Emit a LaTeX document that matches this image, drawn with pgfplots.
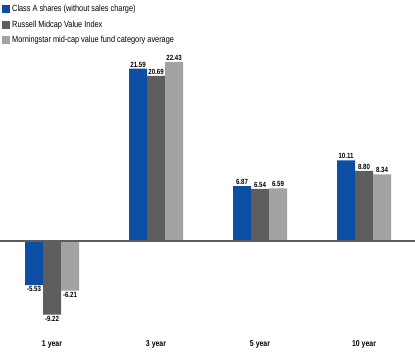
\documentclass[border=0pt]{standalone}
\usepackage{fontspec}
\setmainfont{Liberation Sans}[FakeStretch=0.82]
\usepackage{pgfplots}
\pgfplotsset{compat=1.18}
\definecolor{cA}{HTML}{0B4EA2}
\definecolor{cB}{HTML}{5E5E5E}
\definecolor{cC}{HTML}{A3A3A3}
\begin{document}
\begin{tikzpicture}[x=1bp,y=1bp]
\begin{axis}[
  name=ax,
  scale only axis,
  width=415bp, height=363bp,
  xmin=-0.5, xmax=3.49,
  ymin=-15.29, ymax=30.2,
  axis lines=none,
  ybar=0pt, bar width=18bp,
  clip=false,
  nodes near coords,
  every node near coord/.append style={font=\fontsize{7.5}{8}\selectfont\bfseries, black, inner sep=1.2pt},
  /pgf/number format/.cd, fixed, fixed zerofill, precision=2, assume math mode=true,
  /pgfplots/.cd,
  legend style={at={(0,1)}, anchor=north west, yshift=-2bp, xshift=2bp, draw=none, fill=none, font=\fontsize{9}{10}\selectfont,
    row sep=3.5bp, inner xsep=0pt, inner ysep=1pt, cells={anchor=west}},
  legend image code/.code={\fill[#1] (0bp,-4bp) rectangle (8bp,4bp);},
]
\addplot[fill=cA, draw=none] coordinates {(0,-5.53) (1,21.59) (2,6.87) (3,10.11)};
\addplot[fill=cB, draw=none] coordinates {(0,-9.22) (1,20.69) (2,6.54) (3,8.80)};
\addplot[fill=cC, draw=none] coordinates {(0,-6.21) (1,22.43) (2,6.59) (3,8.34)};
\legend{Class A shares (without sales charge), Russell Midcap Value Index, Morningstar mid-cap value fund category average}
\draw[color=cB, line width=1.3bp] (axis cs:-0.5,0) -- (axis cs:3.49,0);
\node[font=\fontsize{8.5}{9}\selectfont\bfseries] at (axis cs:0,-13.0) {1 year};
\node[font=\fontsize{8.5}{9}\selectfont\bfseries] at (axis cs:1,-13.0) {3 year};
\node[font=\fontsize{8.5}{9}\selectfont\bfseries] at (axis cs:2,-13.0) {5 year};
\node[font=\fontsize{8.5}{9}\selectfont\bfseries] at (axis cs:3,-13.0) {10 year};
\end{axis}
\pgfresetboundingbox
\path (ax.south west) rectangle (ax.north east);
\end{tikzpicture}
\end{document}
